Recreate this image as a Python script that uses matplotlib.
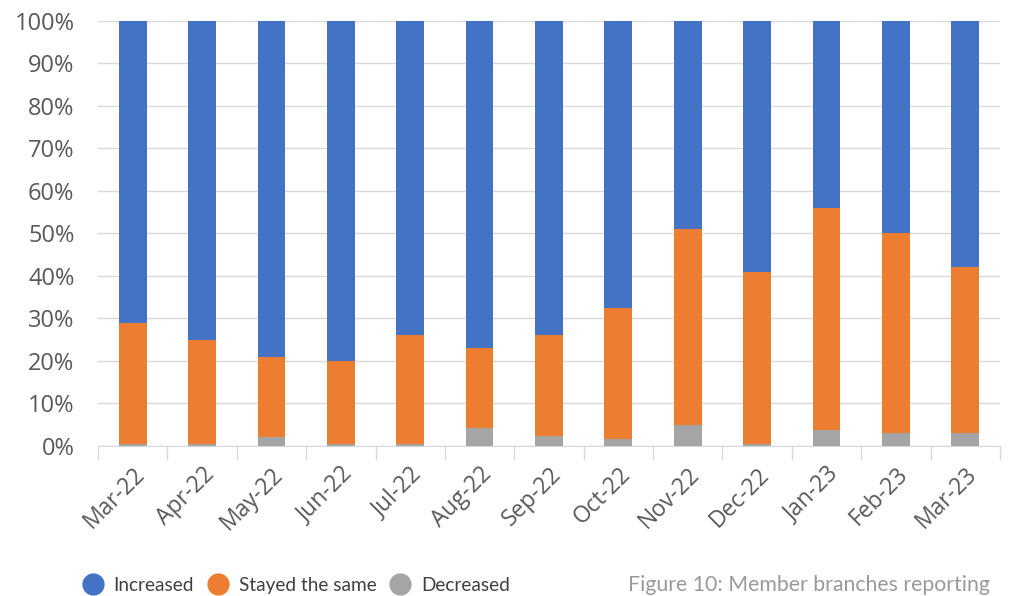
import matplotlib.pyplot as plt
import numpy as np
from matplotlib.lines import Line2D

months = ["Mar-22", "Apr-22", "May-22", "Jun-22", "Jul-22", "Aug-22", "Sep-22",
          "Oct-22", "Nov-22", "Dec-22", "Jan-23", "Feb-23", "Mar-23"]
decreased = [0.5, 0.5, 2.0, 0.5, 0.5, 4.2, 2.4, 1.6, 4.8, 0.5, 3.8, 3.0, 3.0]
stayed_top = [29, 25, 21, 20, 26, 23, 26, 32.5, 51, 41, 56, 50, 42]
stayed = [t - d for t, d in zip(stayed_top, decreased)]
increased = [100 - t for t in stayed_top]

blue = "#4472C4"
orange = "#ED7D31"
grey = "#A5A5A5"
txt = "#595959"

plt.rcParams['font.family'] = ['Open Sans', 'DejaVu Sans']

fig = plt.figure(figsize=(10.11, 5.96), dpi=100)
ax = fig.add_axes([0.097, 0.252, 0.892, 0.713])

x = np.arange(len(months))
w = 0.4
ax.bar(x, decreased, w, color=grey, zorder=3)
ax.bar(x, stayed, w, bottom=decreased, color=orange, zorder=3)
ax.bar(x, increased, w, bottom=stayed_top, color=blue, zorder=3)

ax.set_xlim(-0.5, len(months) - 0.5)
ax.set_ylim(0, 100)
ax.set_yticks(range(0, 101, 10))
ax.set_yticklabels([f"{v}%" for v in range(0, 101, 10)], fontsize=17, color=txt)
ax.yaxis.grid(True, color="#D9D9D9", linewidth=1, zorder=0)
ax.tick_params(axis='y', length=0, pad=17)

ax.set_xticks(x)
ax.set_xticklabels(months, rotation=45, ha='right', rotation_mode='anchor',
                   fontsize=16.5, color=txt)
ax.set_xticks(np.arange(-0.5, len(months), 1), minor=True)
ax.tick_params(axis='x', which='major', length=0, pad=12)
ax.tick_params(axis='x', which='minor', length=10, color="#D9D9D9", width=1)

for s in ['top', 'right', 'left']:
    ax.spines[s].set_visible(False)
ax.spines['bottom'].set_color("#D9D9D9")

handles = [Line2D([], [], marker='o', linestyle='', markersize=15, color=c)
           for c in (blue, orange, grey)]
fig.legend(handles, ["Increased", "Stayed the same", "Decreased"],
           loc='lower left', bbox_to_anchor=(0.056, -0.025), ncol=3, frameon=False,
           prop={'family': 'Lato', 'size': 13.7}, handletextpad=0.1,
           columnspacing=0.25, labelcolor="#404040")

fig.text(0.979, 0.008, "Figure 10: Member branches reporting", ha='right',
         fontsize=15.3, family='Lato', color="#9A9A9A")

plt.savefig("out.png", dpi=100)
